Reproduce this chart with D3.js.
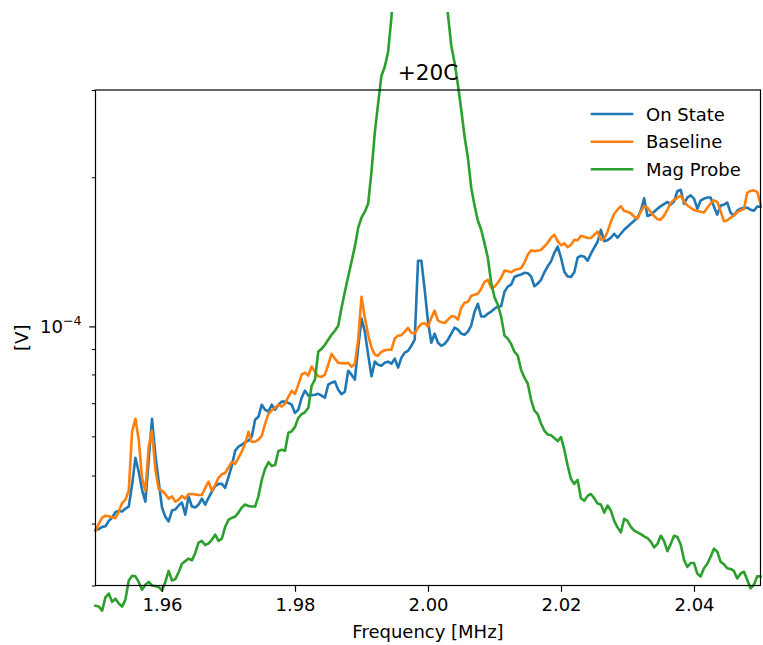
<!DOCTYPE html>
<html><head><meta charset="utf-8">
<script src="https://cdn.jsdelivr.net/npm/d3@7"></script>
<style>body{margin:0;background:#fff}svg{display:block}text{font-family:"DejaVu Sans",sans-serif;fill:#000}</style>
</head><body><svg id="c" width="763" height="645"></svg>
<script>
const freqMHz = [
1.9500,1.9505,1.9510,1.9515,1.9520,1.9525,1.9530,1.9535,1.9540,1.9545,
1.9550,1.9555,1.9560,1.9565,1.9570,1.9575,1.9580,1.9585,1.9590,1.9595,
1.9600,1.9605,1.9610,1.9615,1.9620,1.9625,1.9630,1.9635,1.9640,1.9645,
1.9650,1.9655,1.9660,1.9665,1.9670,1.9675,1.9680,1.9685,1.9690,1.9695,
1.9700,1.9705,1.9710,1.9715,1.9720,1.9725,1.9730,1.9735,1.9740,1.9745,
1.9750,1.9755,1.9760,1.9765,1.9770,1.9775,1.9780,1.9785,1.9790,1.9795,
1.9800,1.9805,1.9810,1.9815,1.9820,1.9825,1.9830,1.9835,1.9840,1.9845,
1.9850,1.9855,1.9860,1.9865,1.9870,1.9875,1.9880,1.9885,1.9890,1.9895,
1.9900,1.9905,1.9910,1.9915,1.9920,1.9925,1.9930,1.9935,1.9940,1.9945,
1.9950,1.9955,1.9960,1.9965,1.9970,1.9975,1.9980,1.9985,1.9990,1.9995,
2.0000,2.0005,2.0010,2.0015,2.0020,2.0025,2.0030,2.0035,2.0040,2.0045,
2.0050,2.0055,2.0060,2.0065,2.0070,2.0075,2.0080,2.0085,2.0090,2.0095,
2.0100,2.0105,2.0110,2.0115,2.0120,2.0125,2.0130,2.0135,2.0140,2.0145,
2.0150,2.0155,2.0160,2.0165,2.0170,2.0175,2.0180,2.0185,2.0190,2.0195,
2.0200,2.0205,2.0210,2.0215,2.0220,2.0225,2.0230,2.0235,2.0240,2.0245,
2.0250,2.0255,2.0260,2.0265,2.0270,2.0275,2.0280,2.0285,2.0290,2.0295,
2.0300,2.0305,2.0310,2.0315,2.0320,2.0325,2.0330,2.0335,2.0340,2.0345,
2.0350,2.0355,2.0360,2.0365,2.0370,2.0375,2.0380,2.0385,2.0390,2.0395,
2.0400,2.0405,2.0410,2.0415,2.0420,2.0425,2.0430,2.0435,2.0440,2.0445,
2.0450,2.0455,2.0460,2.0465,2.0470,2.0475,2.0480,2.0485,2.0490,2.0495,
2.0500];

// values in microvolts
const onStateMicroV = [
38.8,39.0,39.4,39.5,40.5,41.1,42.2,42.4,42.3,42.9,
43.3,47.9,54.3,50.9,46.8,44.3,53.8,65.1,55.1,48.6,
43.1,41.3,40.4,42.5,42.7,43.5,44.1,41.7,45.4,43.3,
43.1,43.7,44.9,43.7,45.1,46.4,47.6,48.1,48.1,47.2,
49.7,52.3,56.1,57.2,57.7,58.4,58.8,59.9,64.8,65.7,
69.5,67.9,67.3,69.5,67.9,69.5,70.5,70.5,70.1,69.5,
66.9,67.9,71.8,74.2,72.5,72.6,72.8,73.1,72.5,71.8,
76.3,77.0,77.4,74.5,73.0,73.8,81.4,79.9,78.1,90.6,
103.7,97.6,87.7,79.3,84.9,83.7,83.3,84.5,84.9,84.1,
86.1,82.6,86.5,88.5,89.3,91.4,94.0,135.7,135.7,118.6,
102.3,92.7,96.7,92.7,91.4,92.2,94.0,96.7,99.4,98.5,
96.7,96.2,97.6,100.4,107.1,111.1,104.7,104.7,106.1,107.1,
108.6,109.6,109.8,117.5,120.3,121.4,125.8,126.7,127.3,128.3,
128.0,126.2,120.5,122.0,124.2,128.6,132.2,135.3,140.8,144.9,
137.6,128.9,126.1,125.8,128.6,137.6,138.9,138.3,135.7,140.2,
144.2,148.2,156.7,148.6,149.3,151.0,153.8,151.0,153.8,156.7,
158.9,161.2,163.4,165.7,171.2,181.4,167.0,168.1,170.4,172.8,
174.9,176.6,178.3,176.1,178.6,187.4,188.7,176.9,182.0,183.8,
181.1,172.8,179.5,181.1,182.0,182.0,174.5,168.1,175.3,176.1,
177.8,169.6,167.3,171.2,172.8,173.6,173.6,172.0,171.2,174.5,
174.5];

const baselineMicroV = [
38.7,40.0,41.1,41.5,41.4,41.2,41.0,42.3,44.0,44.7,
46.6,61.3,65.1,59.1,49.5,46.6,57.2,61.6,51.4,47.0,
46.6,45.9,44.9,45.4,44.3,44.7,45.5,44.9,45.9,45.9,
45.8,45.7,45.7,47.2,48.6,46.6,47.9,49.5,50.3,50.6,
51.9,53.3,52.8,54.3,55.9,58.0,61.3,58.5,58.5,59.1,
60.1,63.6,66.6,67.7,68.5,69.5,68.9,69.8,72.1,74.1,
73.1,76.3,79.9,80.7,79.6,83.0,81.0,79.3,79.1,79.9,
83.7,88.0,86.1,84.4,84.3,84.2,84.4,82.9,84.1,94.0,
114.8,104.2,96.2,90.6,87.7,87.3,88.9,89.5,89.7,89.7,
94.5,95.8,96.0,97.6,99.3,97.1,96.7,99.4,101.2,101.5,
99.9,104.1,107.6,102.7,102.0,101.6,103.2,104.8,104.7,103.2,
109.1,111.6,112.1,115.3,115.8,116.4,119.1,123.0,124.2,119.7,
120.3,122.5,125.4,129.6,129.3,128.6,129.9,130.5,131.1,134.5,
139.5,142.4,141.8,142.2,142.8,145.1,147.5,151.0,153.1,148.6,
145.8,147.1,144.5,146.2,149.6,149.3,152.4,151.7,150.8,150.8,
153.1,155.3,149.6,150.3,155.3,162.7,168.8,172.0,174.9,170.9,
170.4,169.2,166.5,165.0,170.4,174.9,173.6,170.0,167.0,164.6,
164.2,167.3,172.0,177.5,180.2,181.6,183.8,178.7,175.4,173.6,
171.8,170.9,170.4,169.8,173.6,177.0,179.6,178.3,170.9,163.1,
163.8,165.7,167.7,170.0,171.6,172.4,186.0,187.7,188.2,186.9,
176.9];

const magProbeMicroV = [
27.3,27.2,26.7,28.4,28.9,27.8,28.2,27.6,27.2,28.1,
30.7,31.4,31.3,30.5,29.4,30.1,30.5,30.0,29.9,29.8,
29.3,30.5,32.1,30.7,30.9,31.9,33.2,33.6,34.0,33.7,
34.9,36.6,36.9,36.2,36.5,37.1,38.0,36.9,37.3,39.4,
40.7,41.1,41.3,42.1,43.1,43.7,43.4,43.3,43.3,45.4,
49.0,51.6,53.2,52.3,52.5,56.0,56.4,56.1,61.0,61.4,
62.7,65.4,66.5,67.1,68.5,75.9,78.1,88.9,90.1,91.8,
94.0,96.2,98.0,100.3,109.1,117.5,126.1,135.1,144.9,158.2,
165.7,170.4,176.8,205.2,246.0,281.5,320.6,334.2,358.0,419.8,
550,726,960,1211,1458,1600,1676,1676,1600,1458,
1269,1053,875,726,589,489,425.7,368.6,340.5,307.4,
273.7,241.5,219.0,190.5,175.3,163.4,156.7,147.1,137.6,122.5,
114.5,110.6,104.7,95.8,94.5,92.2,88.9,87.3,81.8,78.8,
76.7,71.1,67.6,66.5,63.6,61.6,60.5,60.3,59.5,58.7,
59.8,56.4,52.4,49.2,48.1,49.0,45.0,44.5,45.5,45.9,
45.0,43.9,43.7,42.1,43.5,42.5,40.5,39.3,38.4,40.9,
40.5,39.4,38.7,38.4,38.1,37.7,37.4,36.8,35.8,36.4,
37.8,36.9,35.2,36.4,37.8,37.6,36.3,33.8,32.7,33.3,
33.3,31.7,31.3,32.5,33.2,34.3,35.6,35.1,33.5,33.1,
32.5,32.4,32.1,31.0,31.7,32.0,30.8,29.6,30.1,31.3,
31.3];

const seriesNames = ["On State", "Baseline", "Mag Probe"];
const seriesColors = ["#1f77b4", "#ff7f0e", "#2ca02c"];
const xTickValues = [1.96, 1.98, 2.00, 2.02, 2.04];
const yMajorTicks = [1e-4];
const yMinorTicks = [3e-5, 4e-5, 5e-5, 6e-5, 7e-5, 8e-5, 9e-5, 2e-4, 3e-4];
const titleText = "+20C";
const xLabelText = "Frequency [MHz]";
const yLabelText = "[V]";

const W = 763, H = 645;
const plot = {left: 95.5, right: 760.5, top: 90, bottom: 585.5};
const svg = d3.select("#c");

const x = d3.scaleLinear().domain([1.95, 2.05]).range([plot.left, plot.right]);
const y = d3.scaleLog().domain([3e-5, 3e-4]).range([plot.bottom, plot.top]);

svg.append("defs").append("clipPath").attr("id", "figclip")
  .append("rect").attr("x", 0).attr("y", 12).attr("width", W).attr("height", H - 12);

const allSeries = [onStateMicroV, baselineMicroV, magProbeMicroV];
const line = d3.line().x(d => x(d[0])).y(d => y(d[1] * 1e-6));

const lg = svg.append("g").attr("clip-path", "url(#figclip)");
allSeries.forEach((vals, k) => {
  const pts = freqMHz.map((f, i) => [f, vals[i]]);
  lg.append("path").datum(pts)
    .attr("d", line)
    .attr("fill", "none")
    .attr("stroke", seriesColors[k])
    .attr("stroke-width", 2.6)
    .attr("stroke-linejoin", "round")
    .attr("stroke-linecap", "square");
});

// spines
svg.append("rect")
  .attr("x", plot.left).attr("y", plot.top)
  .attr("width", plot.right - plot.left).attr("height", plot.bottom - plot.top)
  .attr("fill", "none").attr("stroke", "#000").attr("stroke-width", 1.2);

// x axis
const gx = svg.append("g").attr("transform", `translate(0,${plot.bottom})`)
  .call(d3.axisBottom(x).tickValues(xTickValues).tickFormat(d3.format(".2f")).tickSize(6.3).tickPadding(6.5));
gx.select(".domain").remove();
gx.attr("font-family", null).attr("font-size", null);
gx.selectAll("line").attr("stroke", "#000").attr("stroke-width", 1.2);
gx.selectAll("text").style("font-size", "18px").attr("fill", "#000");

// y axis minor
const gyMin = svg.append("g").attr("transform", `translate(${plot.left},0)`)
  .call(d3.axisLeft(y).tickValues(yMinorTicks).tickSize(3.6).tickFormat(() => ""));
gyMin.select(".domain").remove();
gyMin.selectAll("line").attr("stroke", "#000").attr("stroke-width", 1.0);

const gyMaj = svg.append("g").attr("transform", `translate(${plot.left},0)`)
  .call(d3.axisLeft(y).tickValues(yMajorTicks).tickSize(6.3).tickFormat(() => ""));
gyMaj.select(".domain").remove();
gyMaj.selectAll("line").attr("stroke", "#000").attr("stroke-width", 1.2);

yMajorTicks.forEach(v => {
  const exp = Math.round(Math.log10(v));
  const t = svg.append("text")
    .attr("x", plot.left - 14)
    .attr("y", y(v) + 6.6)
    .attr("text-anchor", "end")
    .style("font-size", "18px");
  t.append("tspan").text("10");
  t.append("tspan").attr("dy", -7.6).style("font-size", "12.6px").text("\u2212" + Math.abs(exp));
});

// title
svg.append("text").attr("x", (plot.left + plot.right) / 2).attr("y", 80)
  .attr("text-anchor", "middle").style("font-size", "21.6px").text(titleText);

// axis labels
svg.append("text").attr("x", (plot.left + plot.right) / 2).attr("y", 638)
  .attr("text-anchor", "middle").style("font-size", "18px").text(xLabelText);
svg.append("text")
  .attr("transform", `translate(27.5,${(plot.top + plot.bottom) / 2}) rotate(-90)`)
  .attr("text-anchor", "middle").style("font-size", "18px").text(yLabelText);

// legend
const legY = [114, 141.7, 169.2];
seriesNames.forEach((name, k) => {
  svg.append("line").attr("x1", 592).attr("x2", 632).attr("y1", legY[k]).attr("y2", legY[k])
    .attr("stroke", seriesColors[k]).attr("stroke-width", 2.6).attr("stroke-linecap", "square");
  svg.append("text").attr("x", 646).attr("y", legY[k]).attr("dominant-baseline", "central")
    .style("font-size", "18px").text(name);
});
</script>
</body></html>
